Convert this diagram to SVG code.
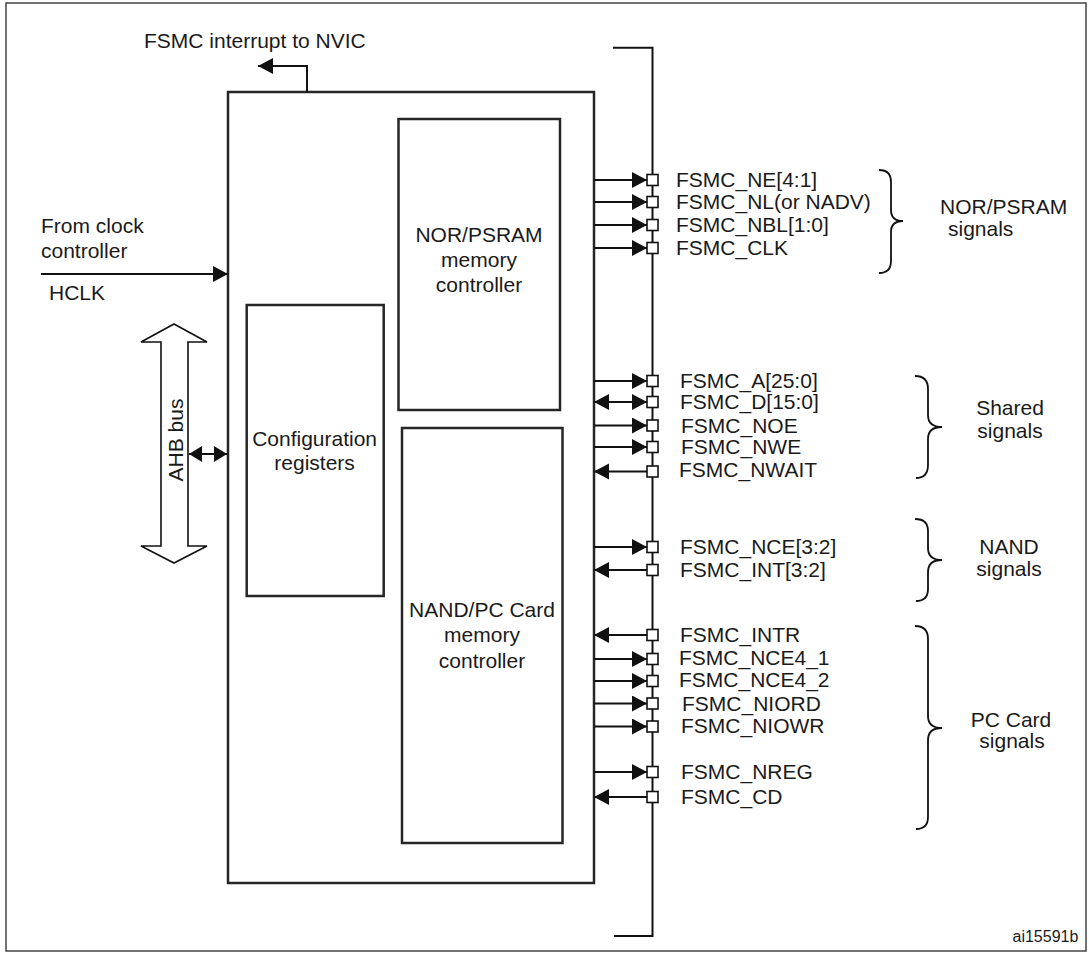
<svg xmlns="http://www.w3.org/2000/svg" width="1089" height="954" viewBox="0 0 1089 954">
<style>
text{font-family:"Liberation Sans",Arial,Helvetica,sans-serif;font-size:21px;fill:#1a1a1a}
.mid{text-anchor:middle}
.small{font-size:16px}
.box{fill:#fff;stroke:#262626;stroke-width:2.5}
.ln{fill:none;stroke:#111;stroke-width:2}
.pin{fill:#fff;stroke:#111;stroke-width:1.6}
.brace{fill:none;stroke:#111;stroke-width:1.8}
</style>
<defs>
<marker id="ah" markerUnits="userSpaceOnUse" markerWidth="16" markerHeight="17" refX="15" refY="8" orient="auto-start-reverse" viewBox="0 0 16 17">
<path d="M0,0 L15,8 L0,16 z" fill="#111"/>
</marker>
<marker id="ahs" markerUnits="userSpaceOnUse" markerWidth="14" markerHeight="17" refX="13" refY="8" orient="auto-start-reverse" viewBox="0 0 14 17">
<path d="M0,0 L13,8 L0,16 z" fill="#111"/>
</marker>
</defs>

<rect id="frame" x="6" y="3" width="1080" height="948" fill="none" stroke="#444" stroke-width="1.5"/>

<g id="fsmc">
<rect class="box" x="228" y="92" width="366" height="791"/>
</g>
<g id="nor-ctrl">
<rect class="box" x="398.5" y="119" width="161.5" height="291"/>
<text class="mid" x="479" y="241.5">NOR/PSRAM</text>
<text class="mid" x="479" y="266.5">memory</text>
<text class="mid" x="479" y="292">controller</text>
</g>
<g id="nand-ctrl">
<rect class="box" x="402" y="428" width="160.5" height="415"/>
<text class="mid" x="482" y="616.5">NAND/PC Card</text>
<text class="mid" x="482" y="642">memory</text>
<text class="mid" x="482" y="668">controller</text>
</g>
<g id="config">
<rect class="box" x="246.7" y="305" width="137" height="291"/>
<text class="mid" x="314.6" y="445.5">Configuration</text>
<text class="mid" x="314.6" y="470">registers</text>
</g>
<g id="ahb">
<polygon points="174,324 207,342 188,342 188,546 207,546 174,563 141,546 161,546 161,342 141,342" fill="#fff" stroke="#111" stroke-width="1.6"/>
<text class="mid" transform="translate(182.5,440) rotate(-90)" x="0" y="0">AHB bus</text>
</g>
<g id="clock">
<text x="41" y="233">From clock</text>
<text x="41" y="257.5">controller</text>
<text x="49" y="300">HCLK</text>
</g>
<g id="interrupt">
<text x="144" y="48">FSMC interrupt to NVIC</text>
</g>

<g id="bus">
<polyline class="ln" points="613,47.7 652.5,47.7 652.5,936 614,936"/>
</g>

<g id="connectors">
<polyline class="ln" points="307,92 307,66 258,66" marker-end="url(#ah)"/>
<line class="ln" x1="41" y1="274" x2="228" y2="274" marker-end="url(#ah)"/>
<line class="ln" x1="189" y1="454" x2="227" y2="454" marker-start="url(#ahs)" marker-end="url(#ahs)"/>
<!-- NOR/PSRAM -->
<line class="ln" x1="594" y1="180" x2="647" y2="180" marker-end="url(#ah)"/>
<line class="ln" x1="594" y1="202" x2="647" y2="202" marker-end="url(#ah)"/>
<line class="ln" x1="594" y1="225" x2="647" y2="225" marker-end="url(#ah)"/>
<line class="ln" x1="594" y1="248" x2="647" y2="248" marker-end="url(#ah)"/>
<!-- Shared -->
<line class="ln" x1="594" y1="381" x2="647" y2="381" marker-end="url(#ah)"/>
<line class="ln" x1="594" y1="402" x2="647" y2="402" marker-start="url(#ah)" marker-end="url(#ah)"/>
<line class="ln" x1="594" y1="425.5" x2="647" y2="425.5" marker-end="url(#ah)"/>
<line class="ln" x1="594" y1="447" x2="647" y2="447" marker-end="url(#ah)"/>
<line class="ln" x1="647" y1="471.5" x2="594" y2="471.5" marker-end="url(#ah)"/>
<!-- NAND -->
<line class="ln" x1="594" y1="547" x2="647" y2="547" marker-end="url(#ah)"/>
<line class="ln" x1="647" y1="570" x2="594" y2="570" marker-end="url(#ah)"/>
<!-- PC Card -->
<line class="ln" x1="647" y1="635" x2="594" y2="635" marker-end="url(#ah)"/>
<line class="ln" x1="594" y1="659" x2="647" y2="659" marker-end="url(#ah)"/>
<line class="ln" x1="594" y1="681" x2="647" y2="681" marker-end="url(#ah)"/>
<line class="ln" x1="594" y1="703.5" x2="647" y2="703.5" marker-end="url(#ah)"/>
<line class="ln" x1="594" y1="726.5" x2="647" y2="726.5" marker-end="url(#ah)"/>
<line class="ln" x1="594" y1="772" x2="647" y2="772" marker-end="url(#ah)"/>
<line class="ln" x1="647" y1="797" x2="594" y2="797" marker-end="url(#ah)"/>
</g>

<g id="pins">
<rect class="pin" x="647" y="174.5" width="11" height="11"/>
<rect class="pin" x="647" y="196.5" width="11" height="11"/>
<rect class="pin" x="647" y="219.5" width="11" height="11"/>
<rect class="pin" x="647" y="242.5" width="11" height="11"/>
<rect class="pin" x="647" y="375.5" width="11" height="11"/>
<rect class="pin" x="647" y="396.5" width="11" height="11"/>
<rect class="pin" x="647" y="420" width="11" height="11"/>
<rect class="pin" x="647" y="441.5" width="11" height="11"/>
<rect class="pin" x="647" y="466" width="11" height="11"/>
<rect class="pin" x="647" y="541.5" width="11" height="11"/>
<rect class="pin" x="647" y="564.5" width="11" height="11"/>
<rect class="pin" x="647" y="629.5" width="11" height="11"/>
<rect class="pin" x="647" y="653.5" width="11" height="11"/>
<rect class="pin" x="647" y="675.5" width="11" height="11"/>
<rect class="pin" x="647" y="698" width="11" height="11"/>
<rect class="pin" x="647" y="721" width="11" height="11"/>
<rect class="pin" x="647" y="766.5" width="11" height="11"/>
<rect class="pin" x="647" y="791.5" width="11" height="11"/>
</g>

<g id="signal-labels">
<text x="676" y="187">FSMC_NE[4:1]</text>
<text x="676" y="209">FSMC_NL(or NADV)</text>
<text x="676" y="232">FSMC_NBL[1:0]</text>
<text x="676" y="255">FSMC_CLK</text>
<text x="680" y="388">FSMC_A[25:0]</text>
<text x="680" y="409">FSMC_D[15:0]</text>
<text x="681" y="432.5">FSMC_NOE</text>
<text x="681" y="454">FSMC_NWE</text>
<text x="679" y="477">FSMC_NWAIT</text>
<text x="680" y="554">FSMC_NCE[3:2]</text>
<text x="680" y="577">FSMC_INT[3:2]</text>
<text x="680" y="642">FSMC_INTR</text>
<text x="679" y="665">FSMC_NCE4_1</text>
<text x="679" y="687">FSMC_NCE4_2</text>
<text x="682" y="710.5">FSMC_NIORD</text>
<text x="681" y="733">FSMC_NIOWR</text>
<text x="681" y="779">FSMC_NREG</text>
<text x="681" y="804">FSMC_CD</text>
</g>

<g id="nor-group">
<path class="brace" d="M879,170 Q891,170 891,182 L891,210 Q891,221 903,221 Q891,221 891,232 L891,261 Q891,273 879,273"/>
<text x="940" y="214">NOR/PSRAM</text>
<text x="948" y="236">signals</text>
</g>
<g id="shared-group">
<path class="brace" d="M915,376 Q928,376 928,389 L928,415 Q928,427 942,427 Q928,427 928,439 L928,465 Q928,478 916,478"/>
<text class="mid" x="1010" y="415">Shared</text>
<text class="mid" x="1010" y="438">signals</text>
</g>
<g id="nand-group">
<path class="brace" d="M915,519 Q928,519 928,531 L928,548 Q928,560 942,560 Q928,560 928,572 L928,589 Q928,601 916,601"/>
<text class="mid" x="1009" y="554">NAND</text>
<text class="mid" x="1009" y="576">signals</text>
</g>
<g id="pccard-group">
<path class="brace" d="M915,626 Q928,626 928,639 L928,716 Q928,728 942,728 Q928,728 928,740 L928,817 Q928,829 916,829"/>
<text class="mid" x="1011" y="727">PC Card</text>
<text class="mid" x="1012" y="748">signals</text>
</g>

<text class="small" x="1012.5" y="941.5">ai15591b</text>
</svg>
